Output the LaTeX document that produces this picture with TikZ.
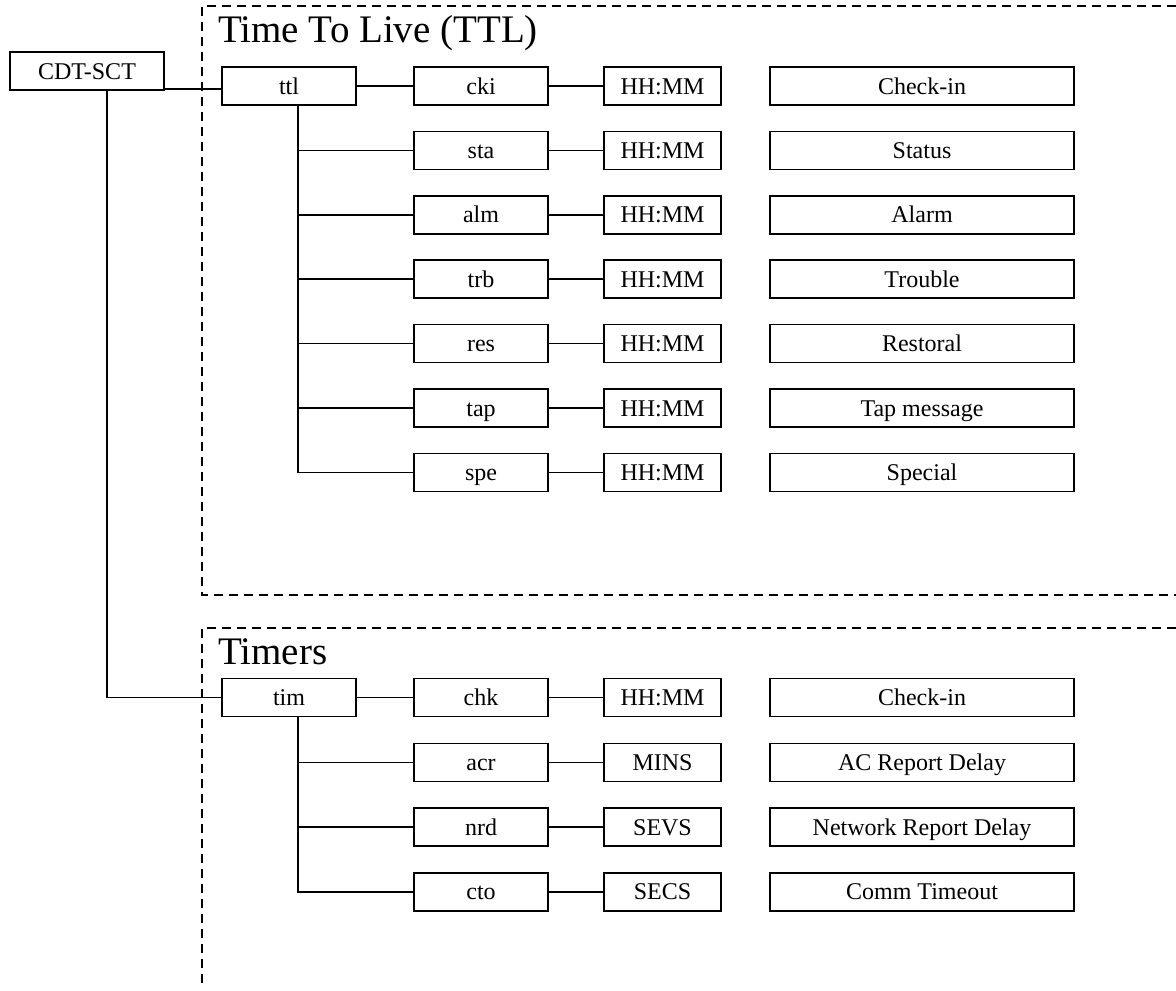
\documentclass[tikz,border=0pt]{standalone}
\usepackage{fontspec}
\setmainfont{Liberation Serif}
\begin{document}
\begin{tikzpicture}[x=1pt,y=-1pt,
  box/.style={draw,line width=1.5pt,inner sep=0pt,minimum height=38pt,text height=21pt,text depth=5pt,font=\fontsize{24}{26}\selectfont},
  c1/.style={box,minimum width=134pt},
  c2/.style={box,minimum width=134pt},
  c3/.style={box,minimum width=117pt},
  c4/.style={box,minimum width=304pt},
  conn/.style={line width=1.5pt},
  frame/.style={line width=1.5pt,dash pattern=on 9pt off 6pt},
  title/.style={anchor=base west,inner sep=0pt,font=\fontsize{39}{42}\selectfont}]
\useasboundingbox (0,0) rectangle (1176,991);
% frames
\draw[frame] (1176,6) -- (202,6) -- (202,595) -- (1176,595);
\draw[frame] (1176,628) -- (202,628) -- (202,985);
\node[title] (t1) at (218,42) {Time To Live (TTL)};
\node[title] (t2) at (218,664) {Timers};
% root
\node[box,minimum width=154pt] (cdt) at (87,71) {CDT-SCT};
\node[c1] (ttl) at (289,86) {ttl};
\node[c1] (tim) at (289,697.5) {tim};
% TTL rows
\foreach \n/\l/\d [count=\i from 0] in {cki/HH:MM/Check-in,sta/HH:MM/Status,alm/HH:MM/Alarm,trb/HH:MM/Trouble,res/HH:MM/Restoral,tap/HH:MM/Tap message,spe/HH:MM/Special}{
  \node[c2] (a\n) at (481,86+64.4*\i) {\n};
  \node[c3] (b\n) at (662.5,86+64.4*\i) {\l};
  \node[c4] (d\n) at (922,86+64.4*\i) {\d};
  \draw[conn] (a\n) -- (b\n);
}
% Timer rows
\foreach \n/\l/\d [count=\i from 0] in {chk/HH:MM/Check-in,acr/MINS/AC Report Delay,nrd/SEVS/Network Report Delay,cto/SECS/Comm Timeout}{
  \node[c2] (a\n) at (481,697.5+64.8*\i) {\n};
  \node[c3] (b\n) at (662.5,697.5+64.8*\i) {\l};
  \node[c4] (d\n) at (922,697.5+64.8*\i) {\d};
  \draw[conn] (a\n) -- (b\n);
}
% connectors
\coordinate (cdtr) at (164,89);
\draw[conn] (cdtr) -- (cdtr -| ttl.west);
\coordinate (cdtb) at (107,90);
\draw[conn] (cdtb) -- (cdtb |- tim.west) -- (tim.west);
\draw[conn] (ttl) -- (acki);
\draw[conn] (tim) -- (achk);
\coordinate (ttlb) at (298,105);
\draw[conn] (ttlb) -- (ttlb |- aspe.west) -- (aspe.west);
\foreach \n in {sta,alm,trb,res,tap}{\draw[conn] (ttlb |- a\n.west) -- (a\n.west);}
\coordinate (timb) at (298,716.5);
\draw[conn] (timb) -- (timb |- acto.west) -- (acto.west);
\foreach \n in {acr,nrd}{\draw[conn] (timb |- a\n.west) -- (a\n.west);}
\end{tikzpicture}
\end{document}
